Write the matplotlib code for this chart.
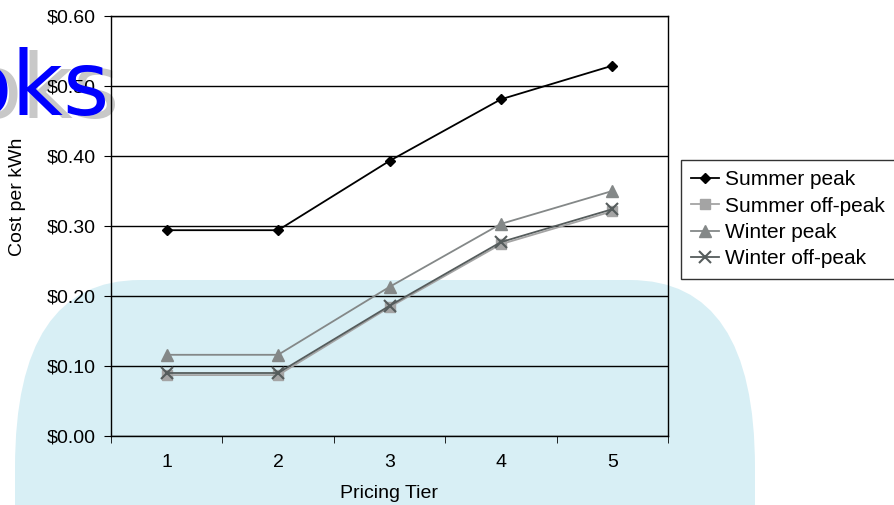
import numpy as np
import matplotlib.pyplot as plt
from matplotlib.patches import FancyBboxPatch

tiers = [1, 2, 3, 4, 5]
summer_peak = [0.294, 0.294, 0.393, 0.481, 0.529]
summer_offpeak = [0.087, 0.087, 0.184, 0.274, 0.321]
winter_peak = [0.116, 0.116, 0.213, 0.303, 0.350]
winter_offpeak = [0.090, 0.090, 0.186, 0.277, 0.324]
yticks = [0.0, 0.1, 0.2, 0.3, 0.4, 0.5, 0.6]

plt.rcParams['font.family'] = ['Liberation Sans', 'DejaVu Sans']

W, H = 894, 505
fig = plt.figure(figsize=(W / 100, H / 100), dpi=100)

# light watermark shape behind the chart (pixel coords, origin bottom-left)
shape = FancyBboxPatch((15, -300), 740, 525, boxstyle="round,pad=0,rounding_size=125",
                       mutation_aspect=1.5, transform=None, facecolor='#d8eff5',
                       edgecolor='none', zorder=-10)
fig.patches.append(shape)

ax = fig.add_axes([111 / W, 1 - 436 / H, 557 / W, 420 / H])
ax.set_facecolor('none')
ax.set_zorder(5)

ax.plot(tiers, summer_peak, color='black', lw=1.3, marker='D', ms=5, label='Summer peak', zorder=5)
ax.plot(tiers, summer_offpeak, color='#a4a4a4', lw=1.3, marker='s', ms=7, label='Summer off-peak', zorder=3)
ax.plot(tiers, winter_peak, color='#848888', lw=1.3, marker='^', ms=8, label='Winter peak', zorder=4)
ax.plot(tiers, winter_offpeak, color='#555c5c', lw=1.3, marker='x', ms=9, mew=1.5, label='Winter off-peak', zorder=4)

ax.set_xlim(0.5, 5.5)
ax.set_ylim(0, 0.6)
ax.set_yticks(yticks)
ax.set_yticklabels([f"${v:.2f}" for v in yticks])
ax.set_xticks(tiers)
ax.set_xticks([0.5, 1.5, 2.5, 3.5, 4.5, 5.5], minor=True)
ax.tick_params(axis='x', which='major', length=0, pad=13, labelsize=14)
ax.tick_params(axis='x', which='minor', length=5, direction='out')
ax.tick_params(axis='y', length=5, labelsize=14, pad=6)
ax.grid(axis='y', color='black', lw=1)
for s in ax.spines.values():
    s.set_color('black')
    s.set_linewidth(1)

ax.set_xlabel('Pricing Tier', fontsize=14, va='center')
ax.xaxis.set_label_coords((389 - 111) / 557, (436 - 493) / 420)
ax.set_ylabel('Cost per kWh', fontsize=14, va='center')
ax.yaxis.set_label_coords((18 - 111) / 557, (436 - 197) / 420)

leg = ax.legend(loc='upper left', bbox_to_anchor=((681 - 111) / 557, (436 - 160) / 420), fontsize=15,
                frameon=True, fancybox=False, edgecolor='black', borderpad=0.5,
                labelspacing=0.35, handlelength=1.3, handletextpad=0.3, borderaxespad=0)
leg.get_frame().set_linewidth(1)

# watermark text
fig.text(120 / W, 1 - 118 / H, 'oks', fontsize=64, color='#c8c8c8', ha='right', va='baseline',
         family='DejaVu Sans', zorder=1)
fig.text(110 / W, 1 - 115 / H, 'oks', fontsize=64, color='#0000ff', ha='right', va='baseline',
         family='DejaVu Sans', zorder=10)

fig.savefig('out.png', dpi=100)
